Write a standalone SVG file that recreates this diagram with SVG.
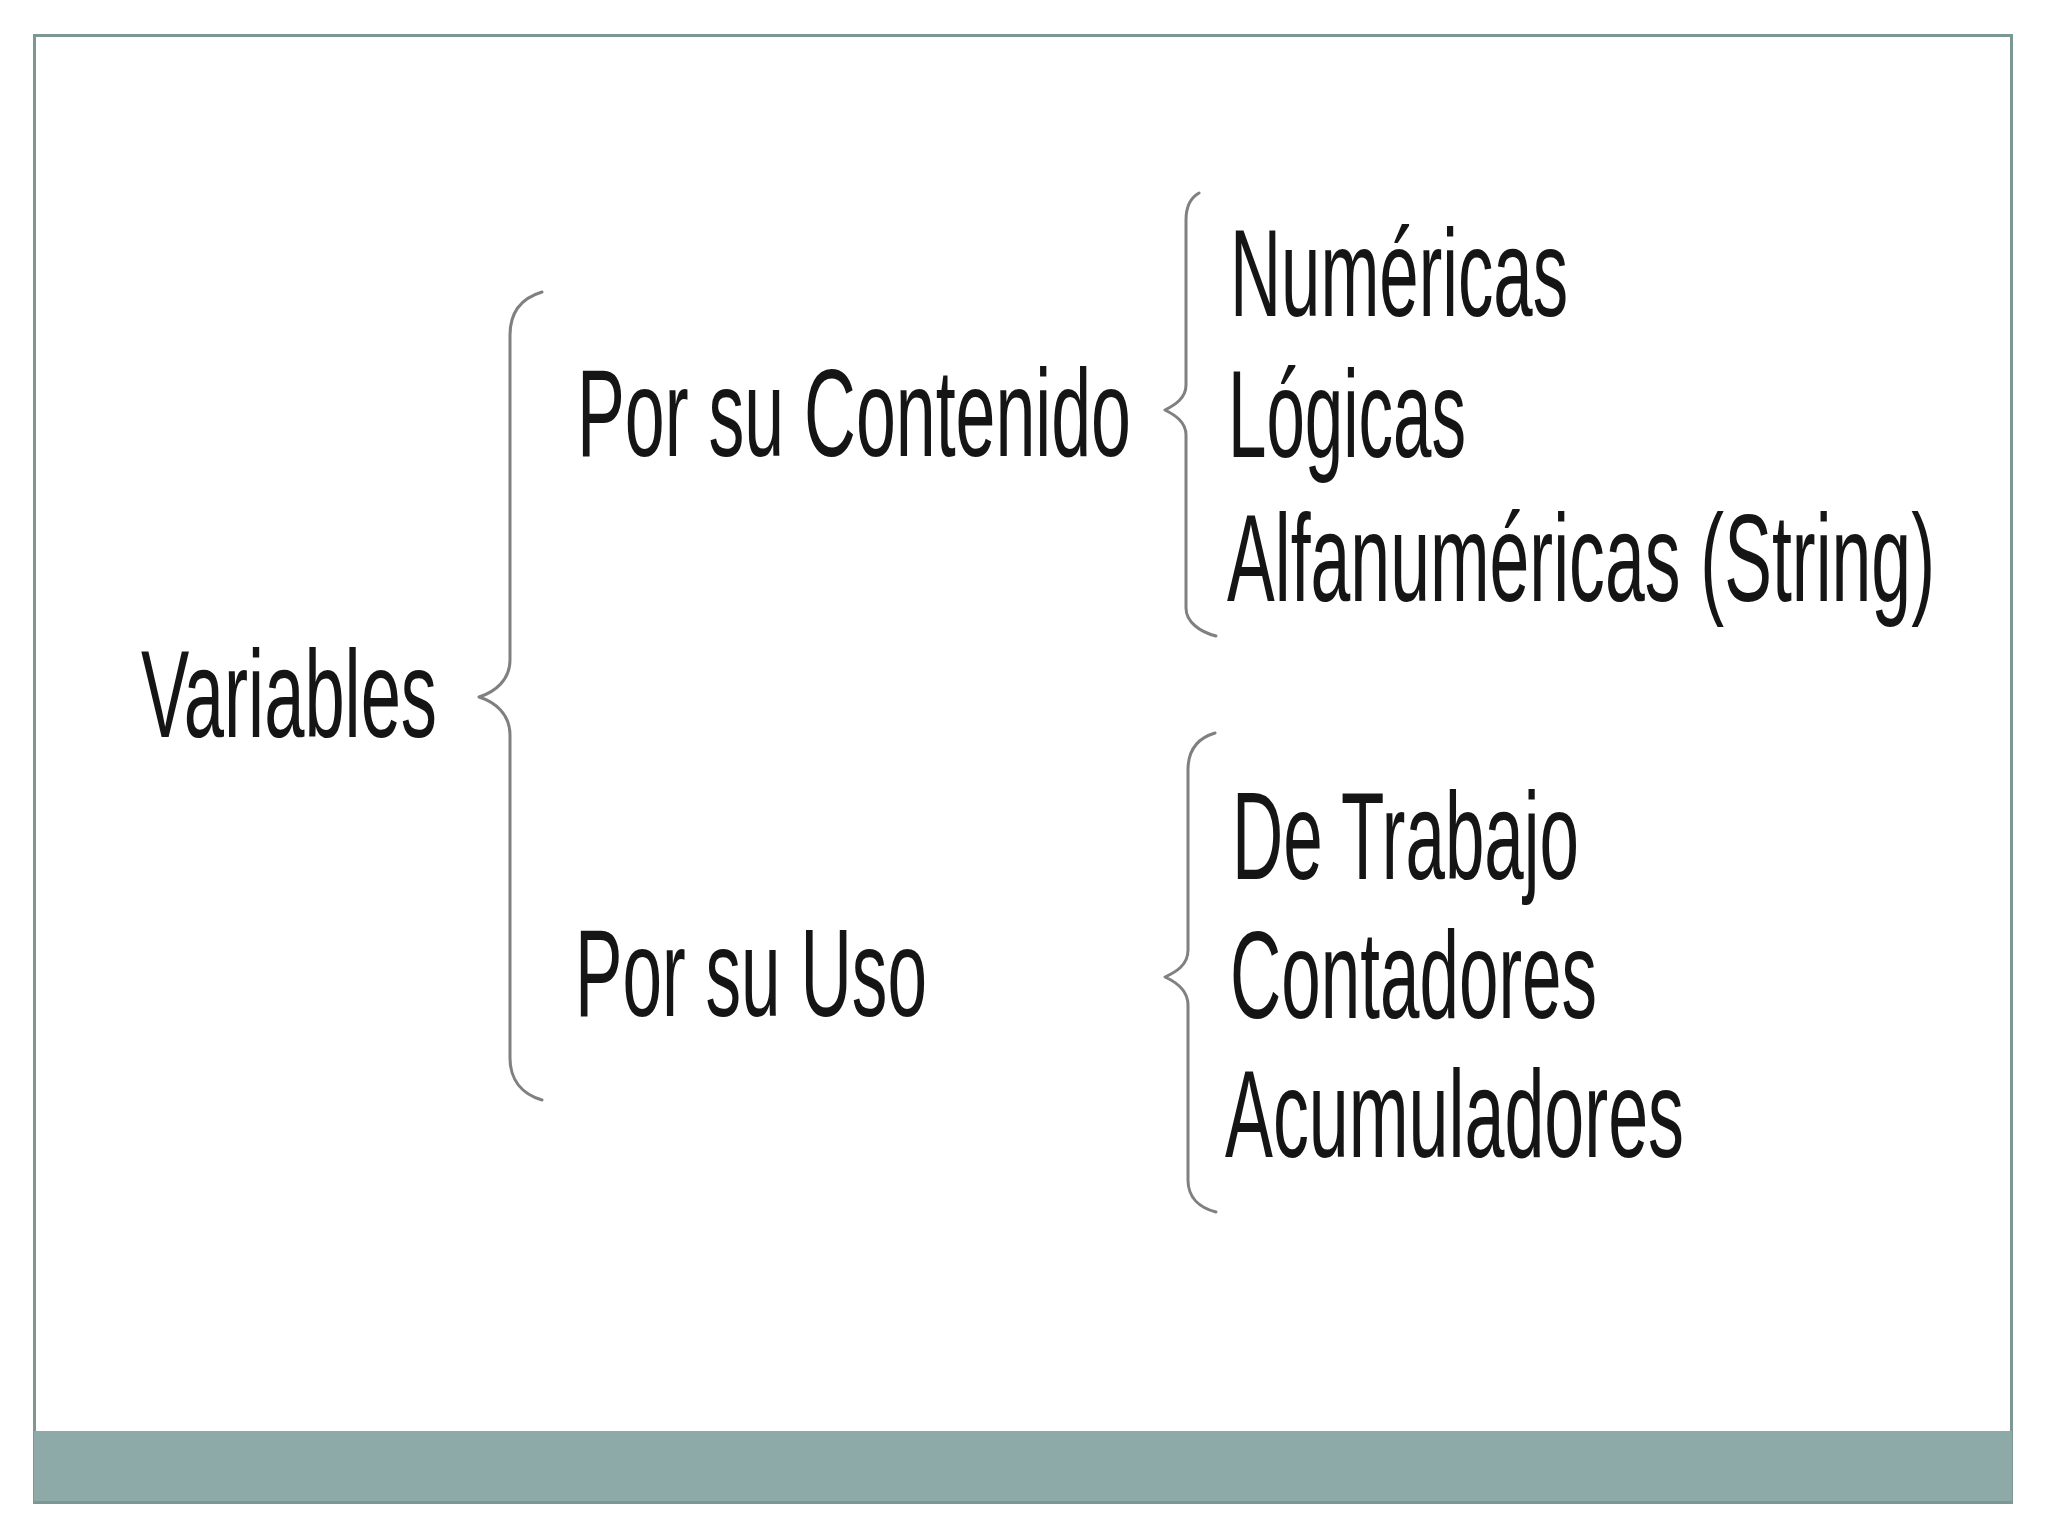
<svg xmlns="http://www.w3.org/2000/svg" width="2048" height="1536" viewBox="0 0 2048 1536">
<style>
.t{font-family:"Liberation Sans",Arial,sans-serif;font-size:124px;fill:#151515}
.br{fill:none;stroke:#808080;stroke-width:3;stroke-linecap:round;stroke-linejoin:round}
</style>
<rect width="2048" height="1536" fill="#ffffff"/>
<g id="frame">
<rect x="34.5" y="35.5" width="1977" height="1467" fill="#ffffff" stroke="#7d9792" stroke-width="3"/>
<rect x="34" y="1431" width="1978" height="72" fill="#8eaaa8"/>
<line x1="34" y1="1502" x2="2012" y2="1502" stroke="#7d9792" stroke-width="2"/>
</g>
<g id="connectors">
<path class="br" d="M542,292 C522,298 510,312 510,335 L510,660 C510,680 495,692 479,697 C495,702 510,714 510,735 L510,1058 C510,1080 522,1094 542,1100"/>
<path class="br" d="M1199,193 C1190,198 1186,206 1186,220 L1186,385 C1186,398 1175,405 1165,410 C1175,415 1186,422 1186,435 L1186,608 C1186,622 1200,632 1216,636"/>
<path class="br" d="M1215,733 C1198,738 1188,750 1188,770 L1188,950 C1188,965 1176,972 1165,977 C1176,982 1188,990 1188,1005 L1188,1180 C1188,1198 1200,1208 1216,1212"/>
</g>
<g id="node-variables"><text class="t" transform="translate(141,737) scale(0.57,1)" textLength="519.3" lengthAdjust="spacingAndGlyphs">Variables</text></g>
<g id="node-contenido"><text class="t" transform="translate(577,456) scale(0.57,1)" textLength="971.9" lengthAdjust="spacingAndGlyphs">Por su Contenido</text></g>
<g id="node-uso"><text class="t" transform="translate(575,1016) scale(0.57,1)" textLength="617.5" lengthAdjust="spacingAndGlyphs">Por su Uso</text></g>
<g id="node-numericas"><text class="t" transform="translate(1230,316) scale(0.57,1)" textLength="593" lengthAdjust="spacingAndGlyphs">Numéricas</text></g>
<g id="node-logicas"><text class="t" transform="translate(1228,457) scale(0.57,1)" textLength="417.5" lengthAdjust="spacingAndGlyphs">Lógicas</text></g>
<g id="node-alfanumericas"><text class="t" transform="translate(1227,601) scale(0.57,1)" textLength="1242.1" lengthAdjust="spacingAndGlyphs">Alfanuméricas (String)</text></g>
<g id="node-trabajo"><text class="t" transform="translate(1232,879) scale(0.57,1)" textLength="608.8" lengthAdjust="spacingAndGlyphs">De Trabajo</text></g>
<g id="node-contadores"><text class="t" transform="translate(1230,1018) scale(0.57,1)" textLength="643.9" lengthAdjust="spacingAndGlyphs">Contadores</text></g>
<g id="node-acumuladores"><text class="t" transform="translate(1225,1157) scale(0.57,1)" textLength="805.3" lengthAdjust="spacingAndGlyphs">Acumuladores</text></g>
</svg>
